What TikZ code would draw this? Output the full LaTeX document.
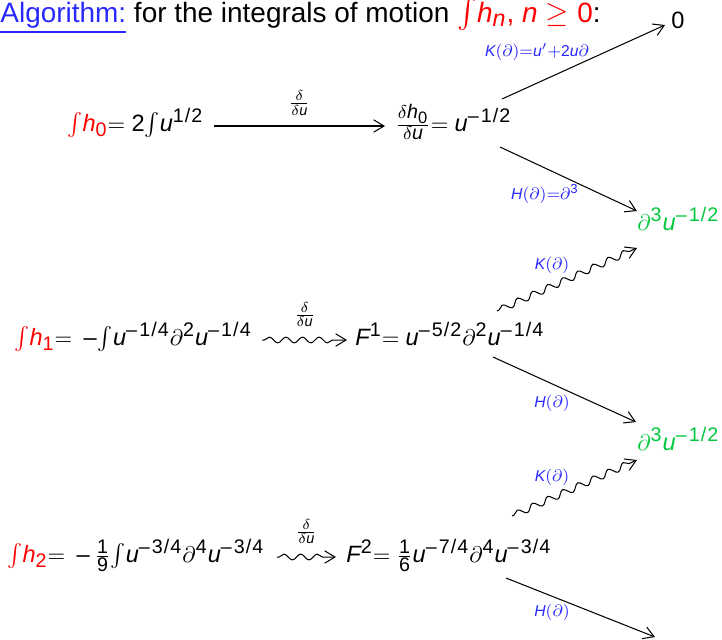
\documentclass[tikz,border=0pt]{standalone}
\usepackage{fontspec}
\setmainfont{Liberation Sans}
\usepackage{amsmath}
\usepackage[italic]{mathastext}
\usetikzlibrary{decorations.pathmorphing,arrows.meta}
\definecolor{lblue}{RGB}{40,40,255}
\definecolor{lgreen}{RGB}{0,200,60}
\newcommand\tx[1]{\text{\upshape #1}}
\newcommand\fr[2]{\tx{#1}\mkern1mu/\mkern1mu\tx{#2}}
\newcommand\nfr[2]{-\mkern2mu\fr{#1}{#2}}
\begin{document}
\begin{tikzpicture}[x=0.483pt,y=-0.483pt,
  expr/.style={inner sep=0pt,anchor=base west,font=\fontsize{11.4}{13}\selectfont},
  lbl/.style={font=\fontsize{7.6}{9}\selectfont,text=lblue,inner sep=1pt},
  dlbl/.style={font=\fontsize{9}{10}\selectfont,inner sep=1pt},
  garr/.style={draw,line width=0.5pt,-{Straight Barb[length=5pt,width=6pt]}},
  warr/.style={garr,decorate,decoration={snake,amplitude=1.4pt,segment length=8pt,pre length=1pt,post length=4pt}},
  wlong/.style={garr,decorate,decoration={snake,amplitude=1.6pt,segment length=8pt,pre length=1pt,post length=4pt}},
  gexpr/.style={expr,text=lgreen}]
\useasboundingbox (0,0) rectangle (722,639);
\node[inner sep=0pt,anchor=base west,font=\fontsize{13.5}{16}\selectfont] (title) at (0,22)
  {\textcolor{lblue}{\underline{Algorithm:}} for the integrals of motion \textcolor{red}{$\int\! h_n$, $n\geq \tx{0}$}:};
\node[expr] (zero) at (671,28) {$\tx{0}$};
% nodes
\node[expr] (r0l) at (67,131) {$\color{red}\int\! h_{\tx{0}}\color{black}{=}\;\tx{2}\!\int\! u^{\fr12}$};
\node[expr] (r0r) at (395,131) {$\frac{\delta h_{\tx{0}}}{\delta u}{=}\;u^{\nfr12}$};
\node[gexpr] (g1) at (637,230) {$\partial^{\tx{3}}u^{\nfr12}$};
\node[expr] (r1l) at (14,345) {$\color{red}\int\! h_{\tx{1}}\color{black}{=}\;-\!\int\! u^{\nfr14}\partial^{\tx{2}}u^{\nfr14}$};
\node[expr] (r1r) at (355,345) {$F^{\tx{1}}{=}\;u^{\nfr52}\partial^{\tx{2}}u^{\nfr14}$};
\node[gexpr] (g2) at (637,450) {$\partial^{\tx{3}}u^{\nfr12}$};
\node[expr] (r2l) at (7,562) {$\color{red}\int\! h_{\tx{2}}\color{black}{=}\;-\tfrac{\tx{1}}{\tx{9}}\!\int\! u^{\nfr34}\partial^{\tx{4}}u^{\nfr34}$};
\node[expr] (r2r) at (346,562) {$F^{\tx{2}}{=}\;\tfrac{\tx{1}}{\tx{6}}u^{\nfr74}\partial^{\tx{4}}u^{\nfr34}$};
% row 0
\draw[garr] ([shift={(10,-5)}]r0l.base east) -- node[dlbl,above=4pt] {$\frac{\delta}{\delta u}$} ([shift={(-10,-5)}]r0r.base west);
\coordinate (k0s) at (502,99);
\coordinate (h0s) at (500,147);
\draw[garr] (k0s) -- ([shift={(-6,-3)}]zero.base west);
\node[lbl] at (537,52) {$K(\partial){=}u'{+}\tx{2}u\partial$};
\draw[garr] (h0s) -- ([shift={(0,-19)}]g1.base west);
\node[lbl] at (545,194) {$H(\partial){=}\partial^{\tx{3}}$};
% row 1
\draw[warr] ([shift={(10,-5)}]r1l.base east) -- node[dlbl,above=5pt] {$\frac{\delta}{\delta u}$} ([shift={(-8,-5)}]r1r.base west);
\coordinate (k1s) at (497,311);
\coordinate (h1s) at (493,357);
\draw[wlong] (k1s) -- ([shift={(0,18)}]g1.base west);
\node[lbl] at (552,265) {$K(\partial)$};
\draw[garr] (h1s) -- ([shift={(-1,-28)}]g2.base west);
\node[lbl] at (552,403) {$H(\partial)$};
% row 2
\draw[warr] ([shift={(12,-5)}]r2l.base east) -- node[dlbl,above=5pt] {$\frac{\delta}{\delta u}$} ([shift={(-10,-5)}]r2r.base west);
\coordinate (k2s) at (512,516);
\coordinate (h2s) at (506,578);
\draw[wlong] (k2s) -- ([shift={(0,10)}]g2.base west);
\node[lbl] at (552,477) {$K(\partial)$};
\coordinate (h2e) at (655,637);
\draw[garr] (h2s) -- (h2e);
\node[lbl] at (552,612) {$H(\partial)$};
\end{tikzpicture}
\end{document}
